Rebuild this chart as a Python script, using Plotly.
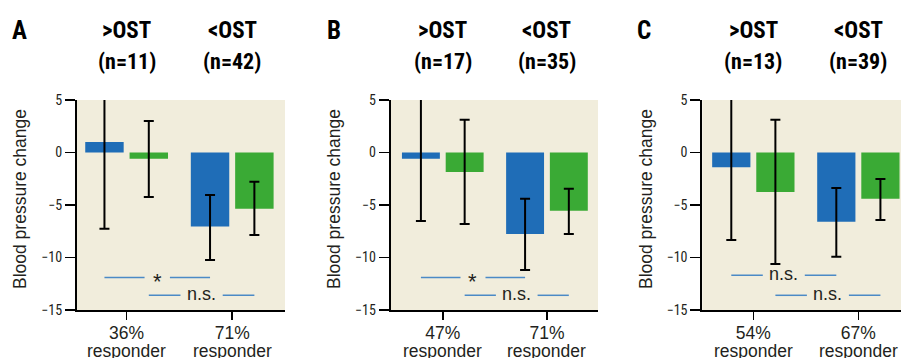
import plotly.graph_objects as go

# ---------------- data ----------------
panels = ["A", "B", "C"]
group_headers = [">OST", "<OST"]
n_labels = [["(n=11)", "(n=42)"], ["(n=17)", "(n=35)"], ["(n=13)", "(n=39)"]]
responder_pct = [["36%", "71%"], ["47%", "71%"], ["54%", "67%"]]
responder_word = "responder"

blue_vals = [[1.0, -7.05], [-0.6, -7.75], [-1.4, -6.6]]
blue_err_hi = [[7.1, -4.05], [5.31, -4.4], [5.48, -3.38]]
blue_err_lo = [[-7.26, -10.24], [-6.52, -11.19], [-8.33, -9.92]]

green_vals = [[-0.6, -5.35], [-1.85, -5.55], [-3.75, -4.4]]
green_err_hi = [[3.0, -2.78], [3.12, -3.45], [3.12, -2.52]]
green_err_lo = [[-4.24, -7.86], [-6.81, -7.76], [-10.62, -6.43]]

sig_blue_text = ["*", "*", "n.s."]
sig_blue_y = [-11.9, -11.9, -11.7]
sig_green_text = ["n.s.", "n.s.", "n.s."]
sig_green_y = [-13.6, -13.6, -13.6]

y_ticks = [5, 0, -5, -10, -15]
y_ticktext = ["5", "0", "\u22125", "\u221210", "\u221215"]

# ---------------- style ----------------
W, H = 901, 358          # browser window
OFF = 0                  # page margin is removed by the post script below
FW, FH = W - OFF, H - OFF


def px_x(p):
    return (p - OFF) / FW


def px_y(p):
    return 1 - (p - OFF) / FH


BLUE = "#1f6db7"
GREEN = "#3aaa35"
BG = "#f1eddc"
LINE_BLUE = "#4b8ac6"
TXT = "#231f20"
NARROW = "Liberation Sans Narrow, Roboto Condensed, DejaVu Sans Condensed, sans-serif"
REG = "Liberation Sans, Arial, sans-serif"

x_domains = [[px_x(77), px_x(285)], [px_x(390.7), px_x(598)], [px_x(702.3), 1.0]]
x_ranges = [[-0.47, 1.5], [-0.5, 1.49], [-0.486, 1.406]]
y_domain = [px_y(310), px_y(100)]

bar_w = 0.364
blue_off = -0.392
green_off = 0.028
blue_c = blue_off + bar_w / 2
green_c = green_off + bar_w / 2

cats = [0, 1]

fig = go.Figure()
annotations = []
shapes = []

for i, p in enumerate(panels):
    xa = "x" if i == 0 else f"x{i+1}"
    ya = "y" if i == 0 else f"y{i+1}"
    bv, gv = blue_vals[i], green_vals[i]
    fig.add_trace(go.Bar(
        x=cats, y=bv, xaxis=xa, yaxis=ya, width=bar_w, offset=blue_off,
        marker=dict(color=BLUE, line=dict(width=0)),
        error_y=dict(type="data", symmetric=False,
                     array=[h - v for h, v in zip(blue_err_hi[i], bv)],
                     arrayminus=[v - l for l, v in zip(blue_err_lo[i], bv)],
                     color="black", thickness=2, width=5),
        showlegend=False, hoverinfo="skip"))
    fig.add_trace(go.Bar(
        x=cats, y=gv, xaxis=xa, yaxis=ya, width=bar_w, offset=green_off,
        marker=dict(color=GREEN, line=dict(width=0)),
        error_y=dict(type="data", symmetric=False,
                     array=[h - v for h, v in zip(green_err_hi[i], gv)],
                     arrayminus=[v - l for l, v in zip(green_err_lo[i], gv)],
                     color="black", thickness=2, width=5),
        showlegend=False, hoverinfo="skip"))

    axn = "" if i == 0 else str(i + 1)
    fig.update_layout(**{
        f"xaxis{axn}": dict(
            domain=x_domains[i], range=x_ranges[i], anchor=ya, automargin=False,
            tickmode="array", tickvals=cats, ticktext=responder_pct[i],
            ticks="outside", ticklen=8, tickwidth=1.5, tickcolor="black",
            ticklabelstandoff=-2,
            showline=True, linecolor="black", linewidth=2,
            showgrid=False, zeroline=False, fixedrange=True,
            tickfont=dict(family=REG, size=17.5, color=TXT)),
        f"yaxis{axn}": dict(
            domain=y_domain, range=[-15, 5], anchor=xa, automargin=False,
            tickmode="array", tickvals=y_ticks, ticktext=y_ticktext,
            ticks="outside", ticklen=10, tickwidth=1.5, tickcolor="black",
            showline=True, linecolor="black", linewidth=2,
            showgrid=False, zeroline=False, fixedrange=True,
            tickfont=dict(family=NARROW, size=14, color=TXT)),
    })

    xref = xa
    yref = ya
    # significance lines (blue-bar pair and green-bar pair)
    for centre, txt, yv in [(blue_c, sig_blue_text[i], sig_blue_y[i]),
                            (green_c, sig_green_text[i], sig_green_y[i])]:
        x0 = cats[0] + centre
        x1 = cats[1] + centre
        xm = (x0 + x1) / 2
        half = 0.12 if txt == "*" else 0.2
        for a, b in [(x0, xm - half), (xm + half, x1)]:
            shapes.append(dict(type="line", xref=xref, yref=yref, x0=a, x1=b,
                               y0=yv, y1=yv, line=dict(color=LINE_BLUE, width=1.5)))
        annotations.append(dict(
            x=xm, y=yv, xref=xref, yref=yref, text=txt, showarrow=False,
            xanchor="center", yanchor="middle",
            yshift=-4 if txt == "*" else 1,
            font=dict(family=REG, size=22 if txt == "*" else 18, color=TXT)))

    # second line of the category labels
    for c in cats:
        annotations.append(dict(x=c, y=px_y(351), xref=xref, yref="paper",
                                text=responder_word, showarrow=False,
                                xanchor="center", yanchor="middle",
                                font=dict(family=REG, size=17.5, color=TXT)))

    # panel letter
    letter_x = [19, 334, 644][i]
    annotations.append(dict(x=px_x(letter_x), y=px_y(31), xref="paper", yref="paper",
                            text=f"<b>{p}</b>", showarrow=False, xanchor="center",
                            yanchor="middle",
                            font=dict(family=NARROW, size=25, color="black")))
    # group headers
    for c in cats:
        annotations.append(dict(x=c, y=px_y(31), xref=xref, yref="paper",
                                text=f"<b>{group_headers[c]}</b>", showarrow=False,
                                xanchor="center", yanchor="middle",
                                font=dict(family=NARROW, size=23, color="black")))
        annotations.append(dict(x=c, y=px_y(62), xref=xref, yref="paper",
                                text=f"<b>{n_labels[i][c]}</b>", showarrow=False,
                                xanchor="center", yanchor="middle",
                                font=dict(family=NARROW, size=22, color="black")))
    # y-axis title
    title_x = [20, 334, 646][i]
    annotations.append(dict(x=px_x(title_x), y=px_y(199), xref="paper", yref="paper",
                            text="Blood pressure change", textangle=-90, showarrow=False,
                            xanchor="center", yanchor="middle",
                            font=dict(family=REG, size=17.5, color=TXT)))

fig.update_layout(
    width=FW, height=FH,
    margin=dict(l=0, r=0, t=0, b=0),
    paper_bgcolor="white", plot_bgcolor=BG,
    barmode="overlay",
    annotations=annotations, shapes=shapes,
    showlegend=False,
)

fig.write_html(
    "out.html",
    config={"displayModeBar": False, "staticPlot": True},
    post_script="document.body.style.margin='0px';document.body.style.overflow='hidden';",
)
